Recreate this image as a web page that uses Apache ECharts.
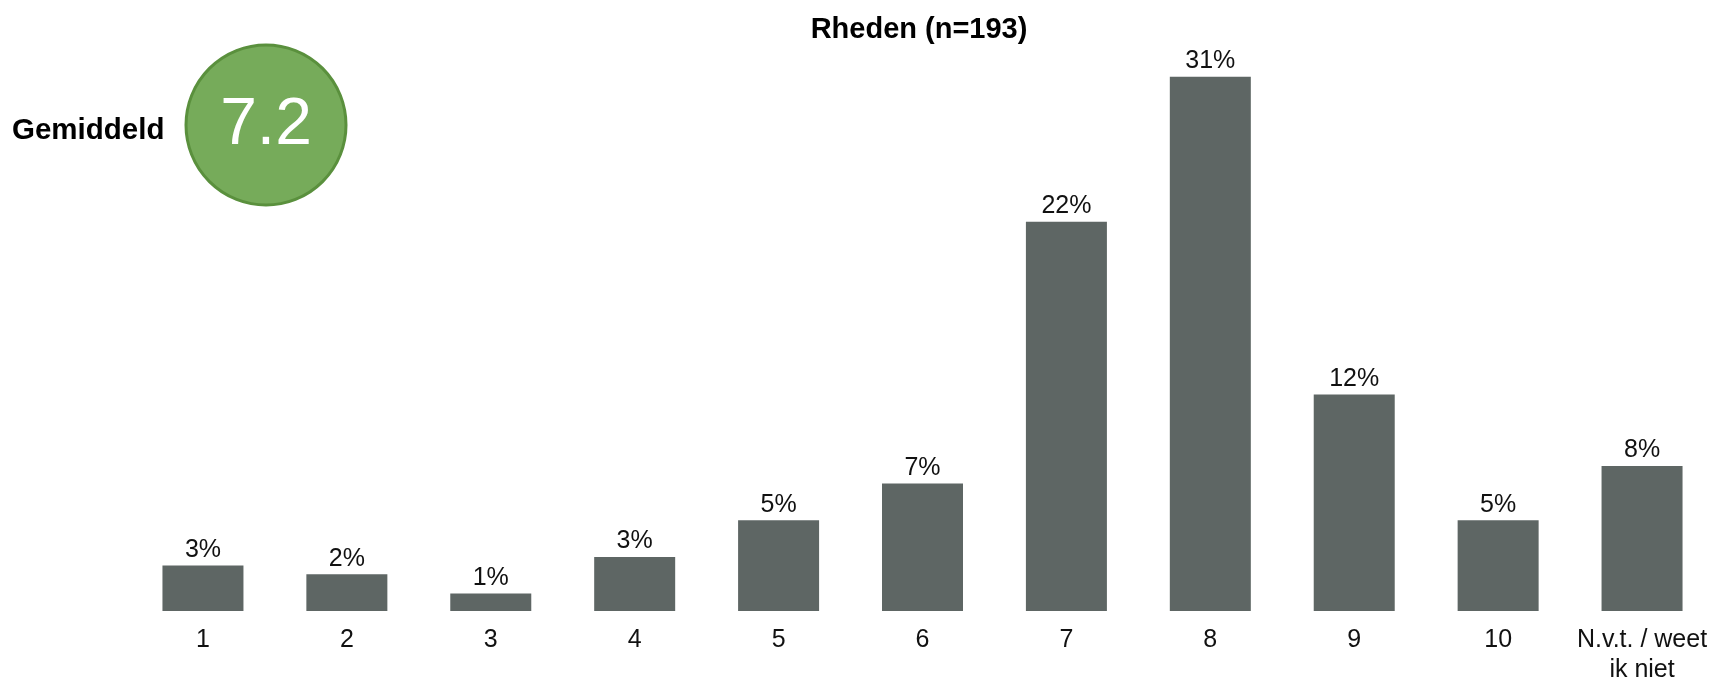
<!DOCTYPE html>
<html>
<head>
<meta charset="utf-8">
<title>Rheden (n=193)</title>
<script src="https://cdn.jsdelivr.net/npm/echarts@6/dist/echarts.min.js"></script>
<style>
  html, body { margin: 0; padding: 0; background: #ffffff; }
  #chart { width: 1721px; height: 681px; }
</style>
</head>
<body>
<div id="chart"></div>
<script>
// Score distribution (percent of respondents per rating)
const categories = ['1', '2', '3', '4', '5', '6', '7', '8', '9', '10', 'N.v.t. / weet\nik niet'];
const percentages = [2.6, 2.1, 1.0, 3.1, 5.2, 7.3, 22.3, 30.6, 12.4, 5.2, 8.3];
const average = 7.2;
const titleText = 'Rheden (n=193)';
const averageLabel = 'Gemiddeld';

const FONT = "'Liberation Sans', Arial, Helvetica, sans-serif";

const chart = echarts.init(document.getElementById('chart'), null, { renderer: 'canvas' });

chart.setOption({
  backgroundColor: '#ffffff',
  animation: false,
  title: {
    text: titleText,
    left: 914,
    top: 10,
    textAlign: 'center',
    textStyle: { fontFamily: FONT, fontSize: 29, fontWeight: 'bold', color: '#000000' }
  },
  grid: { left: 131, right: 7, top: 0, bottom: 70, containLabel: false, outerBoundsMode: 'none' },
  xAxis: {
    type: 'category',
    data: categories,
    axisLine: { show: false },
    axisTick: { show: false },
    axisLabel: {
      color: '#111111',
      fontFamily: FONT,
      fontSize: 25,
      lineHeight: 30,
      margin: 14,
      interval: 0
    }
  },
  yAxis: {
    type: 'value',
    min: 0,
    max: 35,
    show: false,
    splitLine: { show: false }
  },
  series: [{
    type: 'bar',
    data: percentages,
    barWidth: 81,
    itemStyle: { color: '#5e6664' },
    label: {
      show: true,
      position: 'top',
      distance: 3,
      color: '#111111',
      fontFamily: FONT,
      fontSize: 25,
      formatter: p => Math.round(p.value) + '%'
    }
  }],
  graphic: [
    {
      type: 'text',
      left: 12,
      top: 116,
      style: { text: averageLabel, fontFamily: FONT, fontSize: 29.5, fontWeight: 'bold', fill: '#000000' }
    },
    {
      type: 'circle',
      shape: { cx: 266, cy: 125, r: 80 },
      style: { fill: '#76ab5a', stroke: '#5a903d', lineWidth: 3 }
    },
    {
      type: 'text',
      x: 266,
      y: 126,
      style: {
        text: average.toFixed(1),
        fontFamily: FONT,
        fontSize: 66,
        fill: '#ffffff',
        align: 'center',
        verticalAlign: 'middle'
      }
    }
  ]
});
</script>
</body>
</html>
